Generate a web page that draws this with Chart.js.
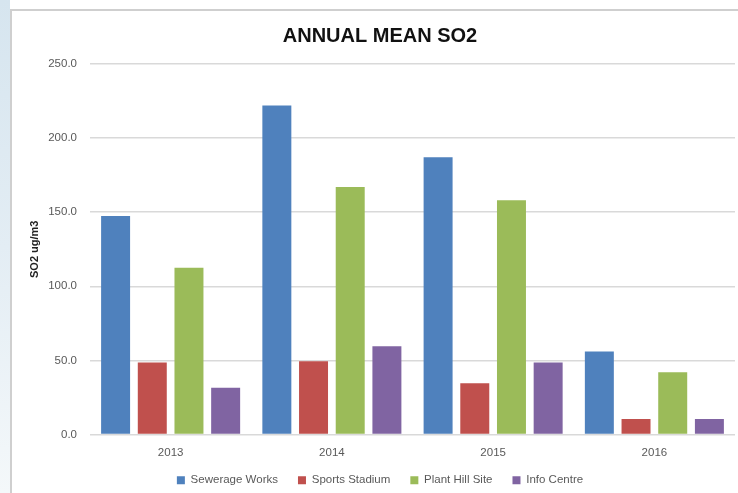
<!DOCTYPE html>
<html>
<head>
<meta charset="utf-8">
<title>Annual Mean SO2</title>
<script src="https://cdn.jsdelivr.net/npm/chart.js@4.4.1/dist/chart.umd.min.js"></script>
<style>
    html, body { margin: 0; padding: 0; width: 738px; height: 493px; overflow: hidden; background: #fff; }
    .strip { position: absolute; left: 0; top: 0; width: 10px; height: 493px;
             background: linear-gradient(to bottom, #d6e5ef 0%, #e3edf4 50%, #f4f8fa 100%); }
    .frame { position: absolute; left: 10px; top: 9px; width: 740px; height: 500px;
             border-left: 2px solid #cfcfcf; border-top: 2px solid #cfcfcf; background: #fff; }
    .box { position: absolute; left: 0; top: 0; width: 736px; height: 494px; }
</style>
</head>
<body>
<div class="strip"></div>
<div class="frame">
    <div class="box"><canvas id="so2Chart"></canvas></div>
</div>
<script>
// data
const years = ["2013", "2014", "2015", "2016"];
const sewerageWorks = [147.5, 222.0, 187.0, 56.0];
const sportsStadium = [48.5, 49.5, 34.5, 10.5];
const plantHillSite = [112.5, 167.0, 158.0, 42.0];
const infoCentre = [31.5, 59.5, 48.5, 10.5];
const yTicks = [0, 50, 100, 150, 200, 250];

const FONT = "'Liberation Sans', Arial, sans-serif";
const GREY = "#595959";

function bar(label, data, color) {
    return {
        label,
        data,
        backgroundColor: color,
        borderWidth: 0,
        categoryPercentage: 0.91,
        barPercentage: 0.79,
    };
}

// legend padding also sets the vertical gap, so pull the legend up a bit
const nudgeLegend = {
    id: "nudgeLegend",
    afterLayout(chart) {
        chart.legend.top -= 5;
        chart.legend.bottom -= 5;
    },
};

new Chart(document.getElementById("so2Chart"), {
    type: "bar",
    data: {
        labels: years,
        datasets: [
            bar("Sewerage Works", sewerageWorks, "#4f81bd"),
            bar("Sports Stadium", sportsStadium, "#c0504d"),
            bar("Plant Hill Site", plantHillSite, "#9bbb59"),
            bar("Info Centre", infoCentre, "#8064a2"),
        ],
    },
    plugins: [nudgeLegend],
    options: {
        responsive: true,
        maintainAspectRatio: false,
        animation: false,
        // equal left/right padding keeps title and legend centred like the original
        layout: { padding: { left: 13, right: 13, top: 0, bottom: 4 } },
        plugins: {
            title: {
                display: true,
                text: "ANNUAL MEAN SO2",
                color: "#111",
                font: { family: FONT, size: 20, weight: "bold" },
                padding: { top: 13, bottom: 16 },
            },
            legend: {
                position: "bottom",
                labels: {
                    boxWidth: 8,
                    boxHeight: 8,
                    padding: 20,
                    color: GREY,
                    font: { family: FONT, size: 11.5 },
                },
            },
            tooltip: { enabled: false },
        },
        scales: {
            x: {
                grid: { display: false, drawTicks: false },
                border: { display: false },
                ticks: { color: GREY, font: { family: FONT, size: 11.5 }, padding: 11 },
                afterFit: (s) => { s.height = 25; },
            },
            y: {
                min: yTicks[0],
                max: yTicks[yTicks.length - 1],
                afterBuildTicks: (s) => { s.ticks = yTicks.map((v) => ({ value: v })); },
                grid: { color: "#d9d9d9", lineWidth: 1.5, drawTicks: false },
                border: { display: false },
                ticks: {
                    color: GREY,
                    padding: 13,
                    font: { family: FONT, size: 11.5 },
                    callback: (v) => Number(v).toFixed(1),
                },
                title: {
                    display: true,
                    text: "SO2 ug/m3",
                    color: "#222",
                    font: { family: FONT, size: 11, weight: "bold" },
                    padding: { top: 3, bottom: 0 },
                },
                afterFit: (s) => { s.width = 65; },
            },
        },
    },
});
</script>
</body>
</html>
